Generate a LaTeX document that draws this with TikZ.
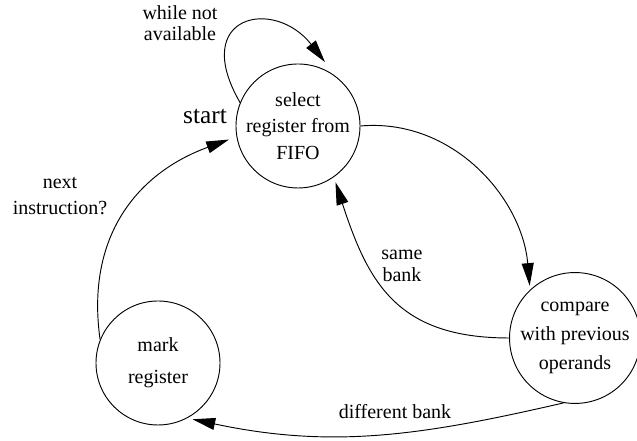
\documentclass[tikz,border=0pt]{standalone}
\usepackage{fontspec}
\setmainfont{Liberation Serif}
\usetikzlibrary{arrows.meta}

\begin{document}
\begin{tikzpicture}[
  x=0.75pt, y=0.75pt,
  state/.style={circle, draw, line width=0.7pt, minimum size=93pt, inner sep=0pt, align=center, font=\fontsize{15}{20}\selectfont},
  lbl/.style={align=center, font=\fontsize{15}{16}\selectfont},
  edge/.style={-{Triangle[length=17pt, width=9pt]}, line width=0.7pt}
]
\useasboundingbox (0,0) rectangle (637,441);
\node[state] (select) at (298,315) {select\\register from\\FIFO};
\node[state] (compare) at (575,103) {compare\\[2pt]with previous\\[2pt]operands};
\node[state] (mark) at (158,78) {mark\\[4pt]register};

\node[lbl] (whilenot) at (180,418) {while not\\available};
\node[lbl, font=\fontsize{15}{19}\selectfont] (next) at (60,245) {next\\instruction?};
\node[lbl] (same) at (402,175) {same\\bank};
\node[lbl] (diff) at (395,29) {different bank};
\node[font=\fontsize{19}{20}\selectfont] (start) at (205,324) {start};

\draw[edge, shorten >=14pt] (select.158) to[out=120, in=128, looseness=2.6] (select.52);
\draw[edge, shorten >=6pt] (mark.158) to[out=98, in=200, looseness=1.1] (select.190);
\draw[edge, shorten >=3pt] (select.0) to[out=5, in=95] (compare.133);
\draw[edge, shorten >=4pt] (compare.180) to[out=180, in=-72, looseness=1.2] (select.-55);
\draw[edge, shorten >=4pt] (compare.-100) to[out=193, in=-12] (mark.-62);
\end{tikzpicture}
\end{document}
